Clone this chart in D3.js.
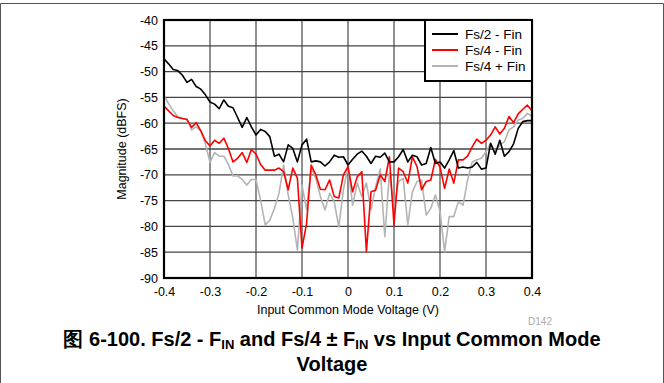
<!DOCTYPE html>
<html>
<head>
<meta charset="utf-8">
<script src="https://d3js.org/d3.v7.min.js"></script>
<style>
  body { margin: 0; background: #fff; }
  svg { display: block; font-family: 'Liberation Sans', Arial, sans-serif; }
</style>
</head>
<body>
<svg id="chart" width="664" height="383"></svg>
<script>
// Input common mode voltage, -0.4 .. 0.4 V in 10 mV steps
const voltages = d3.range(-40, 41).map(i => i / 100);

// Fs/2 - Fin (dBFS)
const fs2MinusFin = [
  -47.5, -48.5, -49.6, -49.8, -50.7, -52.1, -51.5, -52.9, -53.4, -54.5,
  -55.9, -56.3, -57.2, -55.5, -56.7, -57.0, -58.9, -60.8, -58.9, -60.7,
  -62.3, -61.2, -61.6, -62.6, -66.4, -66.0, -67.5, -64.2, -64.9, -67.5,
  -64.2, -63.1, -67.5, -67.3, -67.5, -68.3, -67.5, -66.2, -66.6, -66.5,
  -68.1, -67.0, -66.0, -65.4, -66.4, -67.8, -66.4, -66.6, -65.8, -67.5,
  -67.5, -66.5, -65.1, -67.5, -66.2, -66.5, -68.1, -67.8, -64.7, -67.8,
  -67.5, -68.7, -67.1, -65.3, -68.7, -68.5, -68.7, -68.5, -67.6, -68.9,
  -68.7, -63.9, -66.0, -63.3, -66.4, -65.5, -64.0, -61.0, -59.7, -59.5,
  -59.5
];

// Fs/4 - Fin (dBFS)
const fs4MinusFin = [
  -56.7, -57.6, -58.5, -58.9, -59.1, -59.3, -60.8, -59.9, -61.5, -63.4,
  -64.4, -63.3, -63.9, -62.9, -64.9, -67.5, -66.8, -65.7, -67.6, -65.1,
  -66.0, -68.0, -69.1, -69.1, -69.1, -68.7, -69.4, -72.9, -68.7, -70.7,
  -84.2, -79.4, -68.1, -70.0, -72.8, -72.9, -71.0, -74.2, -74.5, -70.0,
  -68.4, -73.3, -70.4, -69.4, -84.9, -73.3, -73.0, -70.0, -71.3, -66.5,
  -79.7, -68.7, -69.4, -71.6, -66.5, -68.4, -72.9, -71.3, -71.0, -67.0,
  -68.5, -72.6, -68.9, -71.6, -67.1, -67.1, -66.4, -64.6, -63.1, -63.9,
  -63.3, -62.3, -60.7, -62.1, -61.0, -58.7, -59.9, -58.2, -57.3, -56.5,
  -57.6
];

// Fs/4 + Fin (dBFS)
const fs4PlusFin = [
  -54.7, -56.2, -57.6, -58.7, -59.1, -59.2, -61.3, -60.7, -61.5, -64.0,
  -67.6, -65.7, -66.4, -66.4, -68.0, -70.2, -70.2, -70.9, -72.0, -70.9,
  -70.9, -74.9, -79.7, -78.8, -76.5, -73.6, -68.1, -73.9, -78.4, -84.6,
  -72.0, -76.8, -68.7, -70.7, -74.2, -76.8, -73.6, -75.2, -80.1, -72.9,
  -68.4, -75.9, -71.6, -74.2, -71.6, -76.8, -72.3, -68.9, -82.0, -69.7,
  -76.3, -71.3, -70.7, -79.7, -73.3, -71.3, -71.0, -77.8, -76.5, -73.9,
  -77.0, -84.9, -78.1, -78.1, -75.2, -75.9, -71.0, -67.5, -67.1, -66.8,
  -65.5, -63.9, -65.5, -64.2, -63.6, -61.3, -60.7, -59.4, -59.1, -58.1,
  -58.7
];

const xTicks = [-0.4, -0.3, -0.2, -0.1, 0, 0.1, 0.2, 0.3, 0.4];
const yTicks = [-40, -45, -50, -55, -60, -65, -70, -75, -80, -85, -90];
const seriesNames = ['Fs/2 - Fin', 'Fs/4 - Fin', 'Fs/4 + Fin'];
const seriesColors = ['#000000', '#ff0000', '#b4b4b4'];

const series = [fs2MinusFin, fs4MinusFin, fs4PlusFin].map((vals, i) => ({
  name: seriesNames[i],
  color: seriesColors[i],
  points: vals.map((m, j) => ({ v: voltages[j], m }))
}));

const svg = d3.select('#chart');
const plot = { left: 164, right: 532, top: 20, bottom: 278 };

const x = d3.scaleLinear().domain([-0.4, 0.4]).range([plot.left, plot.right]);
const y = d3.scaleLinear().domain([-90, -40]).range([plot.bottom, plot.top]);

// plain hyphen as minus sign, like the original
const hyphen = s => String(s).replace('\u2212', '-');

// page frame
svg.append('path')
  .attr('d', 'M0.5,383 V3.5 H663.5 V383')
  .attr('fill', 'none')
  .attr('stroke', '#555')
  .attr('stroke-width', 1);

// grid
const grid = svg.append('g');
grid.selectAll('line.v')
  .data(xTicks)
  .enter().append('line')
  .attr('x1', d => x(d)).attr('x2', d => x(d))
  .attr('y1', plot.top).attr('y2', plot.bottom)
  .attr('stroke', '#222').attr('stroke-width', 1);
grid.selectAll('line.h')
  .data(yTicks)
  .enter().append('line')
  .attr('x1', plot.left).attr('x2', plot.right)
  .attr('y1', d => y(d)).attr('y2', d => y(d))
  .attr('stroke', '#444').attr('stroke-width', 1.3);

// tick labels via d3 axes, domain and tick lines hidden
const yAxis = svg.append('g')
  .attr('transform', `translate(${plot.left},0)`)
  .call(d3.axisLeft(y).tickValues(yTicks).tickSize(0).tickPadding(6)
    .tickFormat(d => hyphen(d3.format('d')(d))));
const xAxis = svg.append('g')
  .attr('transform', `translate(0,${plot.bottom})`)
  .call(d3.axisBottom(x).tickValues(xTicks).tickSize(0).tickPadding(9)
    .tickFormat(d => d === 0 ? '0' : hyphen(d3.format('.1f')(d))));
[xAxis, yAxis].forEach(a => {
  a.select('.domain').remove();
  a.selectAll('text')
    .attr('font-family', "'Liberation Sans', Arial, sans-serif")
    .attr('font-size', 12.5).attr('fill', '#000');
});

// series lines
const line = d3.line().x(d => x(d.v)).y(d => y(d.m));
svg.append('g')
  .selectAll('path')
  .data(series.slice().reverse())
  .enter().append('path')
  .attr('d', d => line(d.points))
  .attr('fill', 'none')
  .attr('stroke', d => d.color)
  .attr('stroke-width', 1.6)
  .attr('stroke-linejoin', 'round');

// plot border
svg.append('rect')
  .attr('x', plot.left).attr('y', plot.top)
  .attr('width', plot.right - plot.left).attr('height', plot.bottom - plot.top)
  .attr('fill', 'none').attr('stroke', '#000').attr('stroke-width', 2.2);

// legend
const legend = svg.append('g').attr('transform', 'translate(425,20)');
legend.append('rect')
  .attr('width', 107).attr('height', 61)
  .attr('fill', '#fff').attr('stroke', '#000').attr('stroke-width', 2);
const item = legend.selectAll('g.item')
  .data(series)
  .enter().append('g')
  .attr('transform', (d, i) => `translate(0,${14 + i * 16})`);
item.append('line')
  .attr('x1', 7).attr('x2', 33)
  .attr('stroke', d => d.color).attr('stroke-width', 2);
item.append('text')
  .attr('x', 40).attr('y', 5)
  .attr('font-size', 13.5)
  .text(d => d.name);

// axis titles
svg.append('text')
  .attr('transform', `translate(126,${(plot.top + plot.bottom) / 2}) rotate(-90)`)
  .attr('text-anchor', 'middle')
  .attr('font-size', 12.5)
  .text('Magnitude (dBFS)');
svg.append('text')
  .attr('x', 348).attr('y', 314)
  .attr('text-anchor', 'middle')
  .attr('font-size', 12.5)
  .text('Input Common Mode Voltage (V)');
svg.append('text')
  .attr('x', 540).attr('y', 325)
  .attr('text-anchor', 'middle')
  .attr('font-size', 10)
  .attr('fill', '#aaa')
  .text('D142');

// caption
const cap = svg.append('text')
  .attr('x', 332).attr('y', 346)
  .attr('text-anchor', 'middle')
  .attr('font-size', 20)
  .attr('font-weight', 'bold');
cap.append('tspan').text('图 6-100. Fs/2 - F');
cap.append('tspan').attr('font-size', 13).attr('dy', 3).text('IN');
cap.append('tspan').attr('dy', -3).text(' and Fs/4 ± F');
cap.append('tspan').attr('font-size', 13).attr('dy', 3).text('IN');
cap.append('tspan').attr('dy', -3).text(' vs Input Common Mode');
svg.append('text')
  .attr('x', 332).attr('y', 371)
  .attr('text-anchor', 'middle')
  .attr('font-size', 20)
  .attr('font-weight', 'bold')
  .text('Voltage');
</script>
</body>
</html>
